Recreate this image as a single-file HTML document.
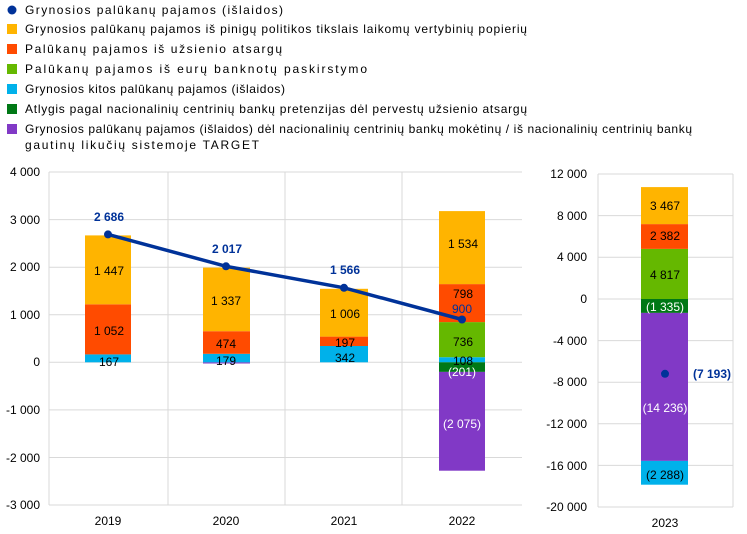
<!DOCTYPE html>
<html><head><meta charset="utf-8"><style>
body{margin:0;background:#fff;}
svg{display:block;font-family:"Liberation Sans",Arial,sans-serif;}
</style></head><body>
<svg width="747" height="534" viewBox="0 0 747 534">
<!-- legend -->
<g font-size="12" fill="#000">
<circle cx="12" cy="10" r="4.5" fill="#003299"/><text x="25" y="14" textLength="258" lengthAdjust="spacing">Grynosios palūkanų pajamos (išlaidos)</text>
<rect x="7" y="24" width="10" height="10" fill="#ffb400"/><text x="25" y="33" textLength="502" lengthAdjust="spacing">Grynosios palūkanų pajamos iš pinigų politikos tikslais laikomų vertybinių popierių</text>
<rect x="7" y="44" width="10" height="10" fill="#ff4b00"/><text x="25" y="53" textLength="257" lengthAdjust="spacing">Palūkanų pajamos iš užsienio atsargų</text>
<rect x="7" y="64" width="10" height="10" fill="#65b800"/><text x="25" y="73" textLength="342" lengthAdjust="spacing">Palūkanų pajamos iš eurų banknotų paskirstymo</text>
<rect x="7" y="84" width="10" height="10" fill="#00b1ea"/><text x="25" y="93" textLength="260" lengthAdjust="spacing">Grynosios kitos palūkanų pajamos (išlaidos)</text>
<rect x="7" y="104" width="10" height="10" fill="#007816"/><text x="25" y="113" textLength="502" lengthAdjust="spacing">Atlygis pagal nacionalinių centrinių bankų pretenzijas dėl pervestų užsienio atsargų</text>
<rect x="7" y="124" width="10" height="10" fill="#8139c6"/><text x="25" y="133" textLength="667" lengthAdjust="spacing">Grynosios palūkanų pajamos (išlaidos) dėl nacionalinių centrinių bankų mokėtinų / iš nacionalinių centrinių bankų</text>
<text x="25" y="149" textLength="234" lengthAdjust="spacing">gautinų likučių sistemoje TARGET</text>
</g>
<!-- left chart grid -->
<g stroke="#d9d9d9" stroke-width="1">
<line x1="49" y1="172" x2="522" y2="172"/><line x1="49" y1="219.6" x2="522" y2="219.6"/>
<line x1="49" y1="267.2" x2="522" y2="267.2"/><line x1="49" y1="314.8" x2="522" y2="314.8"/>
<line x1="49" y1="362.3" x2="522" y2="362.3"/><line x1="49" y1="409.9" x2="522" y2="409.9"/>
<line x1="49" y1="457.5" x2="522" y2="457.5"/><line x1="49" y1="505" x2="522" y2="505"/>
<line x1="49" y1="172" x2="49" y2="505"/><line x1="168" y1="172" x2="168" y2="505"/>
<line x1="285" y1="172" x2="285" y2="505"/><line x1="402" y1="172" x2="402" y2="505"/>
</g>
<g font-size="12" fill="#000" text-anchor="end">
<text x="40" y="176">4 000</text><text x="40" y="224">3 000</text><text x="40" y="271">2 000</text>
<text x="40" y="319">1 000</text><text x="40" y="366">0</text><text x="40" y="414">-1 000</text>
<text x="40" y="462">-2 000</text><text x="40" y="509">-3 000</text>
</g>
<g font-size="12" fill="#000" text-anchor="middle">
<text x="108" y="525">2019</text><text x="226" y="525">2020</text><text x="344" y="525">2021</text><text x="462" y="525">2022</text>
</g>
<rect x="85" y="354.4" width="46" height="7.9" fill="#00b1ea"/>
<rect x="85" y="304.3" width="46" height="50.1" fill="#ff4b00"/>
<rect x="85" y="235.4" width="46" height="68.9" fill="#ffb400"/>
<rect x="203" y="362.3" width="47" height="1.2" fill="#8139c6"/>
<rect x="203" y="353.8" width="47" height="8.5" fill="#00b1ea"/>
<rect x="203" y="331.2" width="47" height="22.6" fill="#ff4b00"/>
<rect x="203" y="267.6" width="47" height="63.6" fill="#ffb400"/>
<rect x="320" y="346" width="48" height="16.3" fill="#00b1ea"/>
<rect x="320" y="336.6" width="48" height="9.4" fill="#ff4b00"/>
<rect x="320" y="288.8" width="48" height="47.8" fill="#ffb400"/>
<rect x="439" y="357.2" width="46" height="5.1" fill="#00b1ea"/>
<rect x="439" y="322.1" width="46" height="35.1" fill="#65b800"/>
<rect x="439" y="284.1" width="46" height="38" fill="#ff4b00"/>
<rect x="439" y="211.1" width="46" height="73" fill="#ffb400"/>
<rect x="439" y="362.3" width="46" height="9.6" fill="#007816"/>
<rect x="439" y="371.9" width="46" height="98.8" fill="#8139c6"/>
<polyline points="108,234.4 226,266.3 344,287.8 462,319.5" fill="none" stroke="#003299" stroke-width="3.5"/>
<g fill="#003299"><circle cx="108" cy="234.4" r="4"/><circle cx="226" cy="266.3" r="4"/><circle cx="344" cy="287.8" r="4"/><circle cx="462" cy="319.5" r="4"/></g>
<g font-size="12" text-anchor="middle">
<g fill="#003299" font-weight="bold"><text x="109" y="221">2 686</text><text x="227" y="253">2 017</text><text x="345" y="274">1 566</text></g>
<text x="462" y="313" fill="#003299">900</text>
<g fill="#000">
<text x="109" y="275">1 447</text><text x="109" y="335">1 052</text><text x="109" y="366">167</text>
<text x="226" y="305">1 337</text><text x="226" y="348">474</text><text x="226" y="365">179</text>
<text x="345" y="318">1 006</text><text x="345" y="347">197</text><text x="345" y="362">342</text>
<text x="463" y="248">1 534</text><text x="463" y="298">798</text><text x="463" y="346">736</text><text x="463" y="365">108</text>
</g>
<g fill="#fff"><text x="462" y="376">(201)</text><text x="462" y="428">(2 075)</text></g>
</g>
<!-- right chart -->
<g stroke="#d9d9d9" stroke-width="1">
<line x1="598" y1="174" x2="733" y2="174"/><line x1="598" y1="215.6" x2="733" y2="215.6"/>
<line x1="598" y1="257.2" x2="733" y2="257.2"/><line x1="598" y1="299" x2="733" y2="299"/>
<line x1="598" y1="340.6" x2="733" y2="340.6"/><line x1="598" y1="382.2" x2="733" y2="382.2"/>
<line x1="598" y1="423.8" x2="733" y2="423.8"/><line x1="598" y1="465.4" x2="733" y2="465.4"/>
<line x1="598" y1="507" x2="733" y2="507"/>
<line x1="598" y1="174" x2="598" y2="507"/><line x1="733" y1="174" x2="733" y2="507"/>
</g>
<g font-size="12" fill="#000" text-anchor="end">
<text x="587" y="178">12 000</text><text x="587" y="220">8 000</text><text x="587" y="261">4 000</text>
<text x="587" y="303">0</text><text x="587" y="345">-4 000</text><text x="587" y="386">-8 000</text>
<text x="587" y="428">-12 000</text><text x="587" y="470">-16 000</text><text x="587" y="511">-20 000</text>
</g>
<text x="665" y="527" font-size="12" text-anchor="middle">2023</text>
<rect x="641" y="248.9" width="47" height="50.1" fill="#65b800"/>
<rect x="641" y="224.1" width="47" height="24.8" fill="#ff4b00"/>
<rect x="641" y="187.1" width="47" height="37" fill="#ffb400"/>
<rect x="641" y="299" width="47" height="13.9" fill="#007816"/>
<rect x="641" y="312.9" width="47" height="148" fill="#8139c6"/>
<rect x="641" y="460.9" width="47" height="23.8" fill="#00b1ea"/>
<circle cx="665" cy="373.8" r="4" fill="#003299"/>
<g font-size="12" text-anchor="middle">
<g fill="#000"><text x="665" y="210">3 467</text><text x="665" y="240">2 382</text><text x="665" y="279">4 817</text><text x="665" y="479">(2 288)</text></g>
<g fill="#fff"><text x="665" y="311">(1 335)</text><text x="665" y="412">(14 236)</text></g>
<text x="712" y="378" fill="#003299" font-weight="bold">(7 193)</text>
</g>
</svg>
</body></html>
